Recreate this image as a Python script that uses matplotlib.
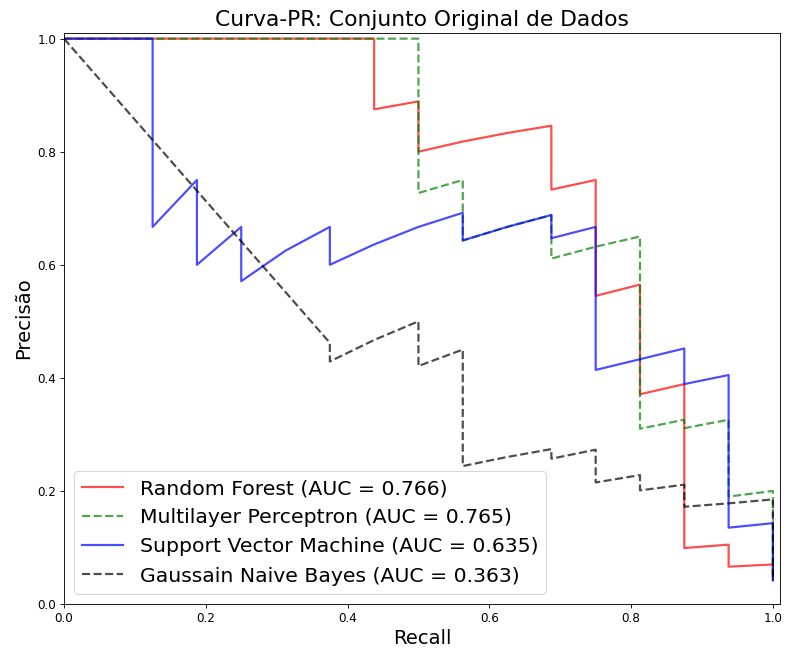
import matplotlib
matplotlib.use("Agg")
import matplotlib.pyplot as plt

# Precision-recall points for each classifier (recall, precision)
rf_recall = [0.0, 0.4375, 0.4375, 0.5, 0.5, 0.5625, 0.625, 0.6875, 0.6875, 0.75, 0.75,
             0.8125, 0.8125, 0.875, 0.875, 0.9375, 0.9375, 1.0, 1.0]
rf_precision = [1.0, 1.0, 0.875, 0.889, 0.800, 0.818, 0.833, 0.846, 0.733, 0.750, 0.545,
                0.565, 0.371, 0.389, 0.099, 0.105, 0.066, 0.070, 0.042]

mlp_recall = [0.0, 0.5, 0.5, 0.5625, 0.5625, 0.625, 0.6875, 0.6875, 0.75, 0.8125, 0.8125,
              0.875, 0.875, 0.9375, 0.9375, 1.0, 1.0]
mlp_precision = [1.0, 1.0, 0.727, 0.750, 0.643, 0.667, 0.688, 0.611, 0.632, 0.650, 0.310,
                 0.326, 0.311, 0.326, 0.190, 0.200, 0.042]

svm_recall = [0.0, 0.125, 0.125, 0.1875, 0.1875, 0.25, 0.25, 0.3125, 0.375, 0.375, 0.4375,
              0.5, 0.5625, 0.5625, 0.625, 0.6875, 0.6875, 0.75, 0.75, 0.8125, 0.875, 0.875,
              0.9375, 0.9375, 1.0, 1.0]
svm_precision = [1.0, 1.0, 0.667, 0.750, 0.600, 0.667, 0.571, 0.625, 0.667, 0.600, 0.636,
                 0.667, 0.692, 0.643, 0.667, 0.688, 0.647, 0.667, 0.414, 0.433, 0.452, 0.389,
                 0.405, 0.135, 0.143, 0.042]

gnb_recall = [0.0, 0.375, 0.375, 0.4375, 0.5, 0.5, 0.5625, 0.5625, 0.625, 0.6875, 0.6875,
              0.75, 0.75, 0.8125, 0.8125, 0.875, 0.875, 0.9375, 1.0, 1.0]
gnb_precision = [1.0, 0.462, 0.429, 0.467, 0.500, 0.421, 0.450, 0.244, 0.260, 0.274, 0.257,
                 0.273, 0.215, 0.228, 0.201, 0.211, 0.172, 0.178, 0.185, 0.042]

labels = [
    "Random Forest (AUC = 0.766)",
    "Multilayer Perceptron (AUC = 0.765)",
    "Support Vector Machine (AUC = 0.635)",
    "Gaussain Naive Bayes (AUC = 0.363)",
]

fig = plt.figure(figsize=(10, 8.308), dpi=78.6)
ax = fig.add_axes([64 / 786, 49 / 653, 716 / 786, 571 / 653])

ax.plot(rf_recall, rf_precision, color="red", linestyle="-", lw=2, alpha=0.7, label=labels[0])
ax.plot(mlp_recall, mlp_precision, color="green", linestyle="--", lw=2, alpha=0.7, label=labels[1])
ax.plot(svm_recall, svm_precision, color="blue", linestyle="-", lw=2, alpha=0.7, label=labels[2])
ax.plot(gnb_recall, gnb_precision, color="black", linestyle="--", lw=2, alpha=0.7, label=labels[3])

ax.set_xlim(0.0, 1.01)
ax.set_ylim(0.0, 1.01)
ax.tick_params(labelsize=11)
ax.set_xlabel("Recall", fontsize=18)
ax.set_ylabel("Precisão", fontsize=18)
ax.set_title("Curva-PR: Conjunto Original de Dados", fontsize=20)
ax.legend(loc="lower left", fontsize=18.7, labelspacing=0.5)

fig.savefig("out.png", dpi=78.6)
